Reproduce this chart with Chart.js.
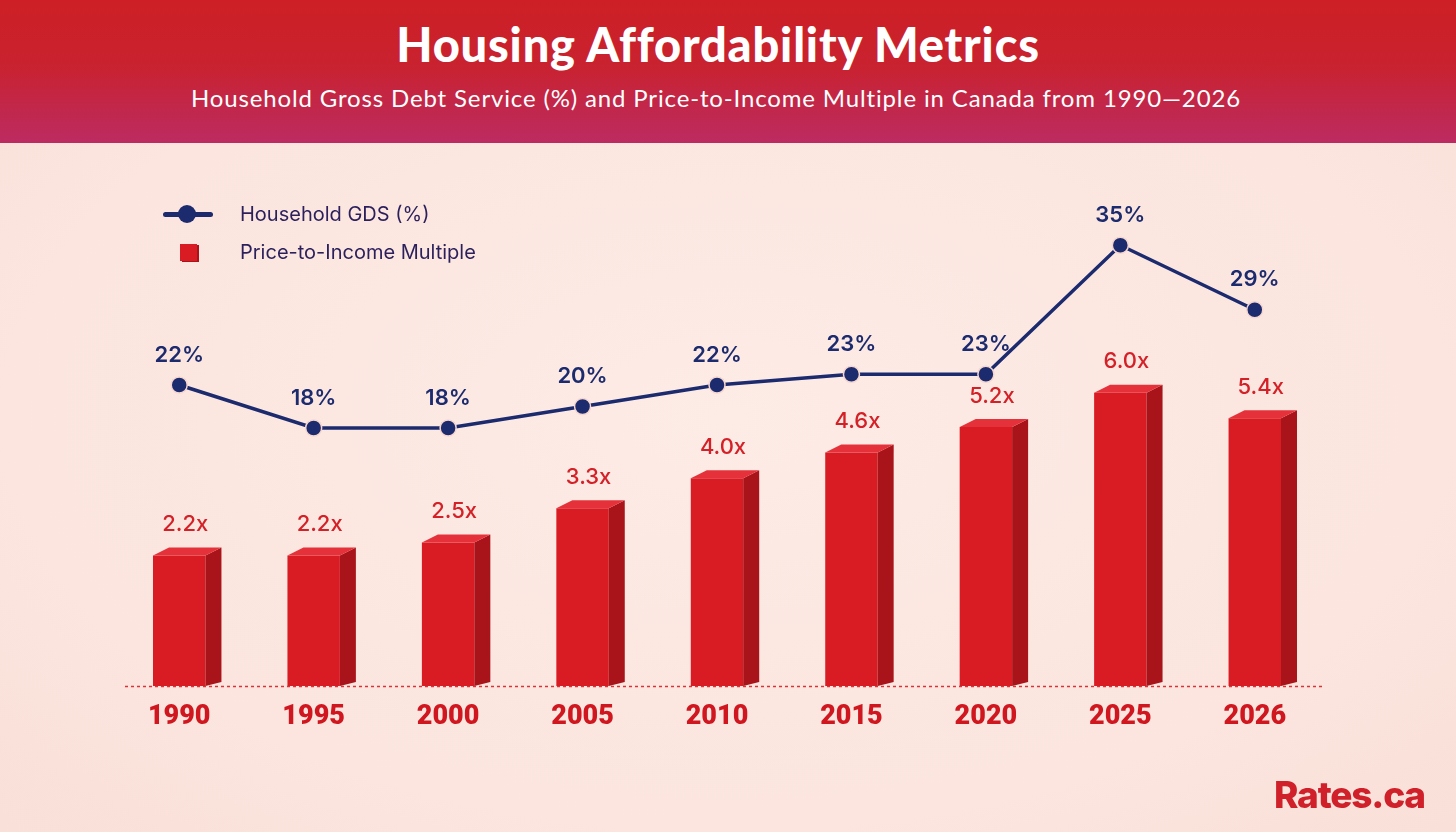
<!DOCTYPE html>
<html lang="en">
<head>
    <meta charset="UTF-8">
    <title>Housing Affordability Metrics</title>
    <script src="https://cdn.jsdelivr.net/npm/chart.js"></script>
    <style>
        html, body { margin: 0; padding: 0; }
        body {
            width: 1456px; height: 832px; overflow: hidden; position: relative;
            background: radial-gradient(ellipse at 50% 50%, #fdebe5 0%, #fbe5de 70%, #f9e0d8 100%);
            font-family: "Lato", sans-serif;
        }
        .header {
            position: absolute; left: 0; top: 0; width: 1456px; height: 143px;
            background: linear-gradient(to bottom, #cd1f25 0%, #c9222f 45%, #bc2b61 100%);
            color: #fff; text-align: center;
        }
        .header h1 {
            margin: 0; position: absolute; top: 16px; left: -10px; width: 100%;
            font-family: "Lato", sans-serif; font-weight: 900; font-size: 47px; letter-spacing: 0.8px;
        }
        .header p {
            margin: 0; position: absolute; top: 83px; left: -12px; width: 100%;
            font-family: "Lato", sans-serif; font-weight: 400; font-size: 24px; letter-spacing: 0.85px;
        }
        .legend { position: absolute; left: 160px; top: 200px; color: #2b1f5c; font-family: "Inter", sans-serif; font-size: 20px; white-space: nowrap; }
        .legend .row { position: relative; height: 38px; }
        .legend .txt { position: absolute; left: 80px; top: 0; line-height: 28px; }
        .legend .ln { position: absolute; left: 3px; top: 12px; width: 50px; height: 5px; border-radius: 3px; background: #1c2a6e; }
        .legend .dot { position: absolute; left: 18px; top: 5px; width: 18px; height: 18px; border-radius: 50%; background: #1c2a6e; }
        .legend .sq { position: absolute; left: 20px; top: 6px; width: 17px; height: 17px; background: #d91c24; box-shadow: 2px 1px 0 #a8141a; }
        #chartWrap { position: absolute; left: 0; top: 143px; width: 1456px; height: 689px; }
        .logo {
            position: absolute; left: 1274px; top: 772px; color: #d0202a;
            font-family: "Inter", sans-serif; font-weight: 800; font-size: 37px; letter-spacing: -1.2px;
        }
    </style>
</head>
<body>
    <div class="header">
        <h1>Housing Affordability Metrics</h1>
        <p>Household Gross Debt Service (%) and Price-to-Income Multiple in Canada from 1990—2026</p>
    </div>
    <div id="chartWrap"><canvas id="chart" width="1456" height="689"></canvas></div>
    <div class="legend">
        <div class="row"><div class="ln"></div><div class="dot"></div><div class="txt">Household GDS (%)</div></div>
        <div class="row"><div class="sq"></div><div class="txt">Price-to-Income Multiple</div></div>
    </div>
    <div class="logo">Rates.ca</div>

    <script>
        const years = ['1990', '1995', '2000', '2005', '2010', '2015', '2020', '2025', '2026'];
        const gdsPercent = [22, 18, 18, 20, 22, 23, 23, 35, 29];
        const priceToIncome = [2.2, 2.2, 2.5, 3.3, 4.0, 4.6, 5.2, 6.0, 5.4];

        const navy = '#1c2a6e';
        const red = '#d91c24';

        // dotted floor line under the bars
        const floorLine = {
            id: 'floorLine',
            beforeDatasetsDraw(chart) {
                const { ctx, chartArea } = chart;
                ctx.save();
                ctx.strokeStyle = '#d8353a';
                ctx.lineWidth = 1.5;
                ctx.setLineDash([3, 3]);
                ctx.beginPath();
                ctx.moveTo(chartArea.left + 13, chartArea.bottom + 0.5);
                ctx.lineTo(chartArea.right + 3, chartArea.bottom + 0.5);
                ctx.stroke();
                ctx.restore();
            }
        };

        // fake 3D prism on top of the flat bars
        const prismPlugin = {
            id: 'prism',
            afterDatasetDraw(chart, args) {
                if (args.index !== 0) return;
                const ctx = chart.ctx;
                const dx = 16, dy = -8;
                chart.getDatasetMeta(0).data.forEach(bar => {
                    const l = bar.x - bar.width / 2, r = bar.x + bar.width / 2;
                    const t = bar.y, b = bar.base;
                    ctx.save();
                    ctx.fillStyle = '#a8141a';
                    ctx.beginPath();
                    ctx.moveTo(r, t); ctx.lineTo(r + dx, t + dy); ctx.lineTo(r + dx, b - 4); ctx.lineTo(r, b);
                    ctx.closePath(); ctx.fill();
                    ctx.fillStyle = '#e5323a';
                    ctx.beginPath();
                    ctx.moveTo(l, t); ctx.lineTo(l + dx, t + dy); ctx.lineTo(r + dx, t + dy); ctx.lineTo(r, t);
                    ctx.closePath(); ctx.fill();
                    ctx.restore();
                });
            }
        };

        const valueLabels = {
            id: 'valueLabels',
            afterDatasetsDraw(chart) {
                const ctx = chart.ctx;
                ctx.save();
                ctx.textAlign = 'center';
                ctx.textBaseline = 'middle';
                ctx.font = '500 22px "Inter", sans-serif';
                ctx.fillStyle = '#d42027';
                chart.getDatasetMeta(0).data.forEach((bar, i) => {
                    ctx.fillText(priceToIncome[i].toFixed(1) + 'x', bar.x + 6, bar.y - 31);
                });
                ctx.font = '600 22px "Inter", sans-serif';
                ctx.fillStyle = navy;
                chart.getDatasetMeta(1).data.forEach((pt, i) => {
                    ctx.fillText(gdsPercent[i] + '%', pt.x, pt.y - 30);
                });
                ctx.restore();
            }
        };

        new Chart(document.getElementById('chart'), {
            data: {
                labels: years,
                datasets: [
                    {
                        type: 'bar',
                        label: 'Price-to-Income Multiple',
                        data: priceToIncome,
                        backgroundColor: red,
                        yAxisID: 'y',
                        base: -0.85,
                        barPercentage: 0.39,
                        categoryPercentage: 1,
                        order: 2
                    },
                    {
                        type: 'line',
                        label: 'Household GDS (%)',
                        data: gdsPercent,
                        borderColor: navy,
                        borderWidth: 3.5,
                        pointRadius: 8,
                        pointBackgroundColor: navy,
                        pointBorderColor: '#f6d6cf',
                        pointBorderWidth: 1.5,
                        tension: 0,
                        yAxisID: 'y2',
                        order: 1
                    }
                ]
            },
            options: {
                responsive: false,
                animation: false,
                layout: { padding: { left: 112, right: 134, top: 27, bottom: 86 } },
                plugins: { legend: { display: false }, tooltip: { enabled: false } },
                scales: {
                    x: {
                        grid: { display: false },
                        border: { display: false },
                        ticks: { color: '#d0161e', font: { family: 'Roboto', weight: 900, size: 27 }, padding: 7 },
                        afterFit: scale => { scale.height = 60; }
                    },
                    y: { display: false, min: -0.85, max: 11.2 },
                    y2: { display: false, min: -6, max: 42 }
                }
            },
            plugins: [floorLine, prismPlugin, valueLabels]
        });
    </script>
</body>
</html>
